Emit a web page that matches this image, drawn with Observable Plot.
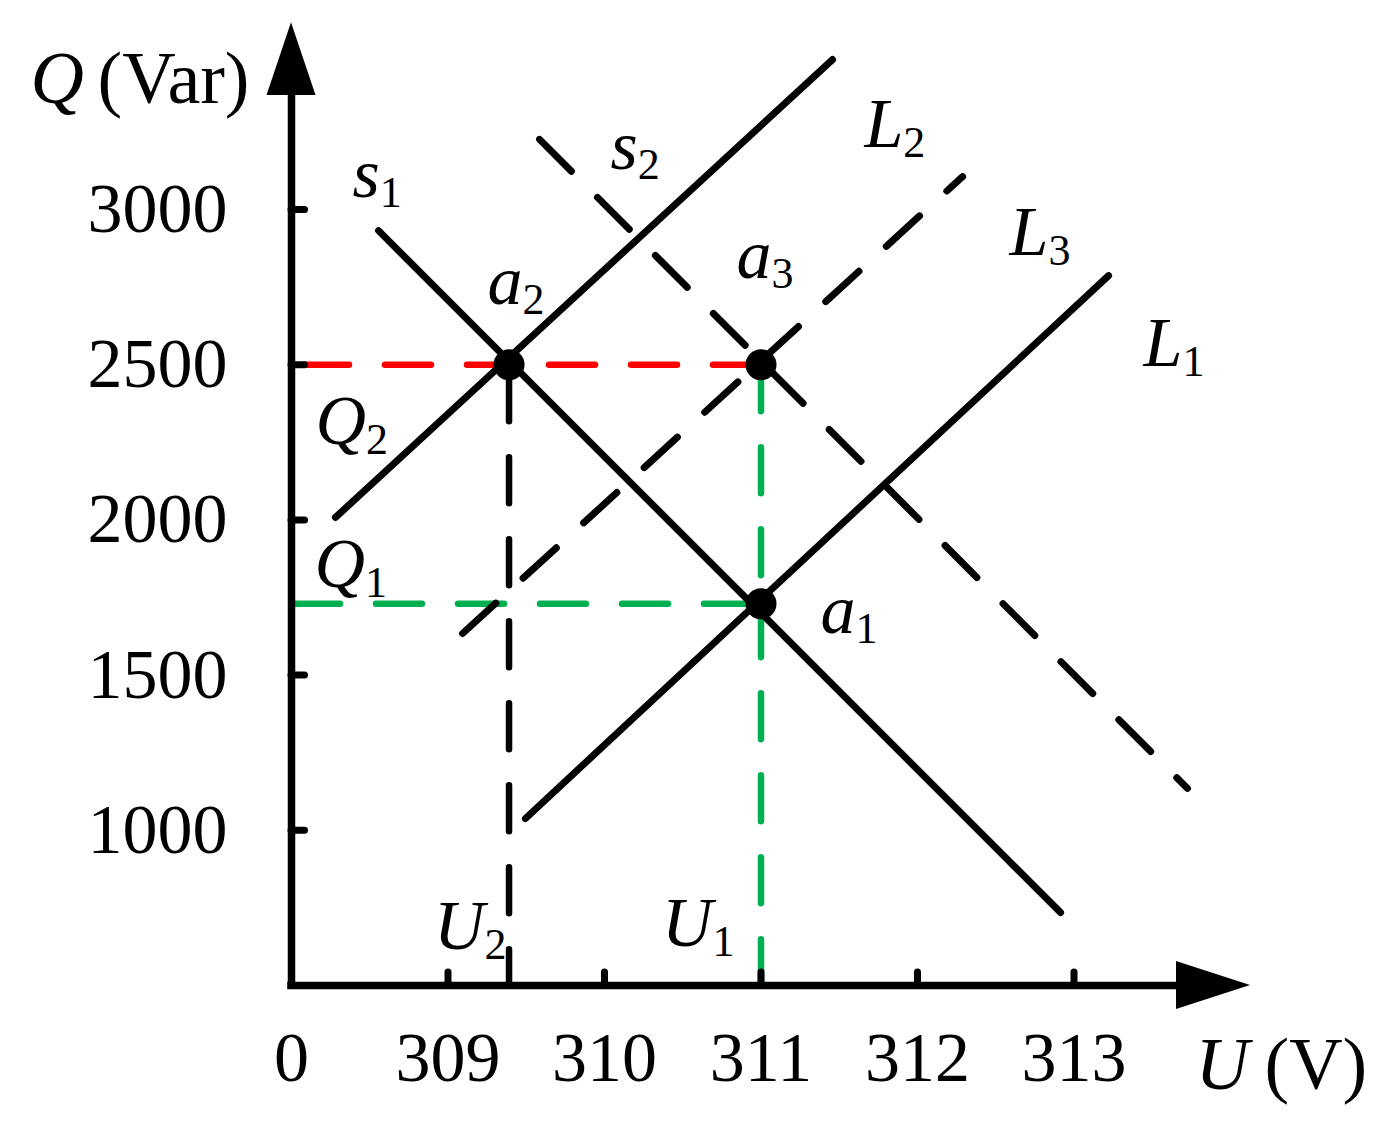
<!DOCTYPE html>
<html><head><meta charset="utf-8">
<script src="https://cdn.jsdelivr.net/npm/d3@7"></script>
<script src="https://cdn.jsdelivr.net/npm/@observablehq/plot@0.6"></script>
<style>html,body{margin:0;padding:0;background:#fff}</style>
</head><body><div id="chart"></div>
<script>
// ---- data ----
const uTicks = [309, 310, 311, 312, 313];
const xLabelValues = [308, 309, 310, 311, 312, 313];
const xLabelTexts = ["0", "309", "310", "311", "312", "313"];
const qTicks = [1000, 1500, 2000, 2500, 3000];
const U0 = 308, Q0 = 500;            // axis origin (labelled "0")
const U1 = 311, U2 = 309.39;         // voltages
const Q1 = 1730, Q2 = 2500;          // reactive powers
const points = [
  {name: "a1", u: U1, q: Q1},
  {name: "a2", u: U2, q: Q2},
  {name: "a3", u: U1, q: Q2}
];
const solidLines = [
  {name: "s1", u1: 308.556, q1: 2932, u2: 312.914, q2: 735},
  {name: "L2", u1: 308.281, q1: 2008, u2: 311.457, q2: 3483},
  {name: "L1", u1: 309.495, q1: 1038, u2: 313.221, q2: 2787}
];
const dashedLines = [
  {name: "s2", u1: 309.585, q1: 3226, u2: 313.725, q2: 1135},
  {name: "L3", u1: 309.093, q1: 1634, u2: 312.288, q2: 3106}
];
const labelMain = ["s", "s", "a", "a", "a", "L", "L", "L", "Q", "Q", "U", "U"];
const labelSub  = ["1", "2", "2", "3", "1", "2", "3", "1", "2", "1", "2", "1"];
const labelU = [308.390, 310.038, 309.252, 310.843, 311.380, 311.661, 312.588, 313.444, 308.153, 308.147, 308.911, 310.367];
const labelQ = [3039, 3132, 2697, 2778, 1637, 3200, 2852, 2497, 2243, 1785, 619, 626];

// ---- scale geometry ----
const PX_U = 156.5, PX_Q = 0.3104;
const X0 = 291, Y0 = 985;
const uPx = d => d / PX_U;   // pixel length -> U units
const qPx = d => d / PX_Q;   // pixel length -> Q units
const FONT = "Liberation Serif, Times New Roman, serif";
const FS = 70, FSUB = 44, FT = 74;
const adv = {s: 0.389, a: 0.5, L: 0.556, Q: 0.722, U: 0.722};

const labels = labelMain.map((m, i) => ({main: m, sub: labelSub[i], u: labelU[i], q: labelQ[i]}));

const xEnd = 313.655, xTip = 314.128;   // x axis arrow base / tip
const yEnd = 3367, yTip = 3602;         // y axis arrow base / tip

const yArrow = [
  {q: yEnd, a: U0 - uPx(24.5), b: U0 + uPx(24.5)},
  {q: yTip, a: U0, b: U0}
];
const xArrow = [
  {u: xEnd, a: Q0 - qPx(24), b: Q0 + qPx(24)},
  {u: xTip, a: Q0, b: Q0}
];

const guide = (u1, q1, u2, q2, color, offset) =>
  Plot.link([{u1, q1, u2, q2}], {x1: "u1", y1: "q1", x2: "u2", y2: "q2",
    stroke: color, strokeWidth: 6.5, strokeDasharray: "46,36", strokeDashoffset: offset, strokeLinecap: "round"});

const chart = Plot.plot({
  width: 1398,
  height: 1126,
  x: {domain: [308, 314.1], range: [X0, X0 + 6.1 * PX_U], axis: null},
  y: {domain: [500, 3600], range: [Y0, Y0 - 3100 * PX_Q], axis: null},
  style: {background: "#fff"},
  marks: [
    // guide lines
    guide(U0, Q2, U1, Q2, "#ff0000", 70.5),
    guide(U0, Q1, U1, Q1, "#00b050", 79.5),
    guide(U1, Q2, U1, Q0, "#00b050", 81.5),
    guide(U2, Q2, U2, Q0, "#000000", 71.5),
    // axes
    Plot.ruleX([U0], {y1: Q0 - qPx(3.75), y2: yEnd, stroke: "black", strokeWidth: 7.5}),
    Plot.ruleY([Q0], {x1: U0 - uPx(3.75), x2: xEnd, stroke: "black", strokeWidth: 7.5}),
    Plot.areaX(yArrow, {y: "q", x1: "a", x2: "b", fill: "black"}),
    Plot.areaY(xArrow, {x: "u", y1: "a", y2: "b", fill: "black"}),
    Plot.ruleX(uTicks, {x: d => d, y1: Q0, y2: Q0 + qPx(13), stroke: "black", strokeWidth: 7, strokeLinecap: "round"}),
    Plot.ruleY(qTicks, {y: d => d, x1: U0, x2: U0 + uPx(13.5), stroke: "black", strokeWidth: 7, strokeLinecap: "round"}),
    // tick labels
    Plot.text(xLabelValues, {x: d => d, y: Q0, text: (d, i) => xLabelTexts[i], dy: 95, lineAnchor: "bottom", textAnchor: "middle", fontFamily: FONT, fontSize: FS, fill: "black"}),
    Plot.text(qTicks, {x: U0, y: d => d, text: d => String(d), dx: -64, textAnchor: "end", lineAnchor: "middle", fontFamily: FONT, fontSize: FS, fill: "black"}),
    // axis titles
    Plot.text(["Q"], {x: U0 - uPx(261), y: Q0 + qPx(883), text: d => d, textAnchor: "start", lineAnchor: "bottom", fontFamily: FONT, fontSize: FT, fontStyle: "italic", fill: "black"}),
    Plot.text(["(Var)"], {x: U0 - uPx(194), y: Q0 + qPx(883), text: d => d, textAnchor: "start", lineAnchor: "bottom", fontFamily: FONT, fontSize: FT, fill: "black"}),
    Plot.text(["U"], {x: U0 + uPx(904), y: Q0 - qPx(103), text: d => d, textAnchor: "start", lineAnchor: "bottom", fontFamily: FONT, fontSize: FT, fontStyle: "italic", fill: "black"}),
    Plot.text(["(V)"], {x: U0 + uPx(973), y: Q0 - qPx(103), text: d => d, textAnchor: "start", lineAnchor: "bottom", fontFamily: FONT, fontSize: FT, fill: "black"}),
    // characteristic lines
    Plot.link(solidLines, {x1: "u1", y1: "q1", x2: "u2", y2: "q2", stroke: "black", strokeWidth: 7, strokeLinecap: "round"}),
    Plot.link(dashedLines, {x1: "u1", y1: "q1", x2: "u2", y2: "q2", stroke: "black", strokeWidth: 7, strokeDasharray: "45,37", strokeLinecap: "round"}),
    // operating points
    Plot.dot(points, {x: "u", y: "q", r: 15.5, fill: "black", stroke: "none"}),
    // curve / point labels
    Plot.text(labels, {x: "u", y: "q", text: "main", textAnchor: "start", lineAnchor: "bottom", fontFamily: FONT, fontSize: FS, fontStyle: "italic", fill: "black"}),
    Plot.text(labels, {x: d => d.u + uPx(adv[d.main] * FS), y: d => d.q - qPx(10), text: "sub", textAnchor: "start", lineAnchor: "bottom", fontFamily: FONT, fontSize: FSUB, fill: "black"})
  ]
});
document.getElementById("chart").appendChild(chart);
</script>
</body></html>
